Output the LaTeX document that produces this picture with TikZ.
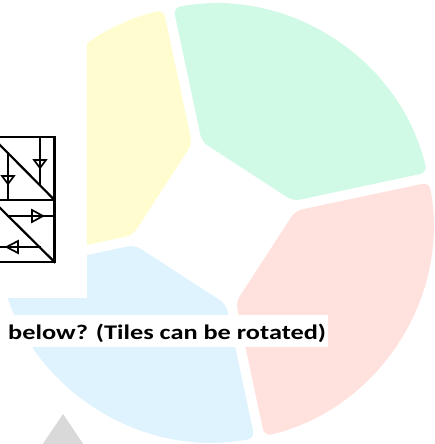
\documentclass[tikz,border=0pt]{standalone}
\usepackage{fontspec}
\setmainfont{Carlito}
\usetikzlibrary{calc}
\definecolor{segG}{RGB}{208,249,230}
\definecolor{segY}{RGB}{255,253,208}
\definecolor{segB}{RGB}{223,243,254}
\definecolor{segR}{RGB}{255,225,222}
\definecolor{triG}{RGB}{217,217,217}
\tikzset{
  seg/.style={rounded corners=7pt},
  tileline/.style={line width=2.2pt, line cap=rect},
  arrhead/.style={line width=1.7pt, line join=miter},
}
\begin{document}
\begin{tikzpicture}[x=1pt,y=1pt]
\useasboundingbox (0,0) rectangle (435,444);
\clip (0,0) rectangle (435,444);
\coordinate (C) at (214,221);
% ring segments
\foreach \k/\col in {0/segG,1/segY,2/segB,3/segR} {
  \pgfmathsetmacro\ta{12+90*\k}
  \pgfmathsetmacro\tb{\ta+90}
  \fill[\col, seg] ($(C)+(\ta+3.49:82.15)$) -- ($(C)+(\ta+1.31:219)$)
    arc[start angle=\ta+1.31, end angle=\tb-1.31, radius=219]
    -- ($(C)+(\tb-3.49:82.15)$) -- cycle;
}
% white cover at left
\fill[white] (0,146) rectangle (87,444);
% gray triangle
\fill[triG] (63,30) -- (36,-10) -- (90,-10) -- cycle;
% text box
\fill[white] (0,97) rectangle (328,129);
\node[anchor=base west, inner sep=0pt, font=\bfseries\fontsize{20.8}{22}\selectfont] (q) at (8,104) {\scalebox{1.265}[1]{below? (Tiles can be rotated)}};
% tiles
\draw[tileline] (-8,182) rectangle (54.5,307);
\draw[tileline] (-8,244) -- (54.5,244);
\draw[tileline] (-8,307) -- (54.5,244);
\draw[tileline] (-8,244) -- (54.5,182);
% top tile arrows
\draw[tileline] (40,307) -- (40,258.6);
\draw[arrhead] (34,284) -- (46,284) -- (40,276) -- cycle;
\draw[tileline] (8,290.9) -- (8,244);
\draw[arrhead] (2,268) -- (14,268) -- (8,260) -- cycle;
% bottom tile arrows
\draw[tileline] (8.1,228) -- (54.5,228);
\draw[arrhead] (32,234) -- (32,222) -- (43,228) -- cycle;
\draw[tileline] (-8,197) -- (39.4,197);
\draw[arrhead] (18,203) -- (18,191) -- (6.5,197) -- cycle;
\end{tikzpicture}
\end{document}
